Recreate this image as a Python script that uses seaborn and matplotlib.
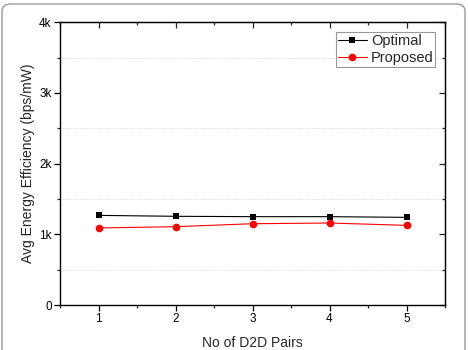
import numpy as np
import pandas as pd
import matplotlib
matplotlib.use("Agg")
import matplotlib.pyplot as plt
from matplotlib.patches import FancyBboxPatch
from matplotlib.ticker import MultipleLocator, FuncFormatter
import seaborn as sns

pairs = [1, 2, 3, 4, 5]
optimal = [1268, 1255, 1250, 1250, 1240]
proposed = [1090, 1108, 1150, 1160, 1127]

sns.set_style("ticks")
plt.rcParams['font.family'] = ['Liberation Sans', 'DejaVu Sans']

df = pd.DataFrame({
    'pairs': pairs * 2,
    'value': optimal + proposed,
    'serie': ['Optimal'] * len(pairs) + ['Proposed'] * len(pairs),
})

fig = plt.figure(figsize=(4.68, 3.5), dpi=100)
ax = fig.add_axes([60 / 468, 1 - 305 / 350, 385 / 468, 282.7 / 350])

sns.lineplot(data=df[df.serie == 'Optimal'], x='pairs', y='value', ax=ax,
             color='black', marker='s', markersize=4.5, markeredgewidth=0,
             linewidth=0.8, label='Optimal')
sns.lineplot(data=df[df.serie == 'Proposed'], x='pairs', y='value', ax=ax,
             color='red', marker='o', markersize=5.5, markeredgewidth=0,
             linewidth=0.8, label='Proposed')

ax.set_xlim(0.5, 5.5)
ax.set_ylim(0, 4000)
ax.xaxis.set_major_locator(MultipleLocator(1))
ax.xaxis.set_minor_locator(MultipleLocator(0.5))
ax.yaxis.set_major_locator(MultipleLocator(1000))
ax.yaxis.set_minor_locator(MultipleLocator(500))
ax.yaxis.set_major_formatter(FuncFormatter(lambda v, p: '0' if v == 0 else f'{int(v/1000)}k'))

# dotted grid at the half-thousands only
for g in [500, 1500, 2500, 3500]:
    ax.axhline(g, color='#cccccc', linestyle=':', linewidth=0.6, zorder=0)

for s in ax.spines.values():
    s.set_linewidth(1.0)
    s.set_color('black')
    s.set_visible(True)

ax.tick_params(which='major', direction='out', length=4, width=0.9, labelsize=8.5, colors='black', pad=2)
ax.tick_params(which='minor', direction='out', length=2.5, width=0.9)

# inward ticks on top and right
top = ax.secondary_xaxis('top')
top.xaxis.set_major_locator(MultipleLocator(1))
top.xaxis.set_minor_locator(MultipleLocator(0.5))
top.tick_params(which='major', direction='in', length=4, width=0.9, labeltop=False)
top.tick_params(which='minor', direction='in', length=2.5, width=0.9)
right = ax.secondary_yaxis('right')
right.yaxis.set_major_locator(MultipleLocator(1000))
right.yaxis.set_minor_locator(MultipleLocator(500))
right.tick_params(which='major', direction='in', length=4, width=0.9, labelright=False)
right.tick_params(which='minor', direction='in', length=2.5, width=0.9)

ax.set_xlabel('No of D2D Pairs', fontsize=10, labelpad=8)
ax.set_ylabel('Avg Energy Efficiency (bps/mW)', fontsize=10, labelpad=3)

leg = ax.legend(loc='upper right', bbox_to_anchor=(0.975, 0.965), fontsize=10.5,
                frameon=True, fancybox=False, edgecolor='#999999', framealpha=1,
                handlelength=2.0, handletextpad=0.3, borderpad=0.1, labelspacing=0.25,
                borderaxespad=0)
leg.get_frame().set_linewidth(0.8)

# journal figure border
border = FancyBboxPatch((2 / 468, -0.1), 463 / 468, 1.1 - 4 / 350,
                        boxstyle='round,pad=0,rounding_size=0.02',
                        transform=fig.transFigure, fill=False,
                        edgecolor='#999999', linewidth=1.0, clip_on=False)
fig.patches.append(border)

fig.savefig('out.png', dpi=100)
